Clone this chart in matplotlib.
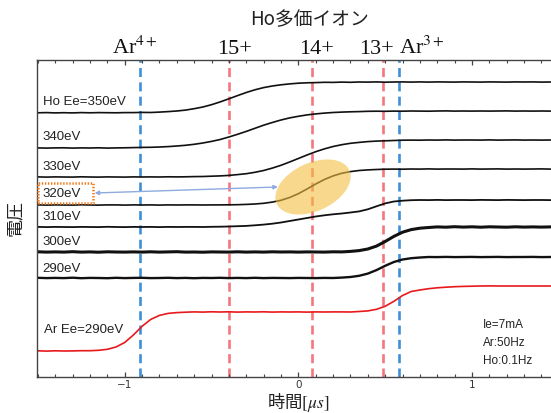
import matplotlib
matplotlib.use("Agg")
import matplotlib.pyplot as plt
from matplotlib.patches import Ellipse, Rectangle
import numpy as np

plt.rcParams['mathtext.fontset'] = 'stix'
plt.rcParams['lines.scale_dashes'] = False

# ---------------- data ----------------
t = [-1.50, -1.45, -1.40, -1.35, -1.30, -1.25, -1.20, -1.15, -1.10, -1.05,
     -1.00, -0.95, -0.90, -0.85, -0.80, -0.75, -0.70, -0.65, -0.60, -0.55,
     -0.50, -0.45, -0.40, -0.35, -0.30, -0.25, -0.20, -0.15, -0.10, -0.05,
     0.00, 0.05, 0.10, 0.15, 0.20, 0.25, 0.30, 0.35, 0.40, 0.45,
     0.50, 0.55, 0.60, 0.65, 0.70, 0.75, 0.80, 0.85, 0.90, 0.95,
     1.00, 1.05, 1.10, 1.15, 1.20, 1.25, 1.30, 1.35, 1.40, 1.45]

ho_350 = [270.2, 270.4, 270.1, 270.3, 270.1, 270.4, 270.2, 270.4, 270.3, 270.2,
          270.4, 270.4, 270.6, 270.5, 270.9, 271.4, 272.0, 272.9, 274.3, 276.0,
          278.3, 281.1, 284.2, 287.4, 290.5, 293.2, 295.4, 297.0, 298.2, 299.1,
          299.8, 300.2, 300.4, 300.7, 300.6, 300.9, 300.7, 301.0, 300.9, 301.1,
          300.8, 301.0, 301.1, 300.9, 301.1, 300.9, 301.1, 301.0, 300.9, 301.1,
          301.0, 300.9, 301.1, 301.0, 300.9, 301.1, 301.0, 301.1, 300.9, 301.0]

ho_340 = [235.1, 234.9, 235.1, 235.2, 234.9, 235.1, 235.0, 235.2, 234.9, 235.1,
          235.2, 235.4, 235.6, 235.7, 236.0, 236.4, 237.0, 237.7, 238.7, 240.0,
          241.6, 243.5, 246.0, 248.7, 251.6, 254.7, 257.8, 260.5, 263.0, 265.1,
          266.7, 268.1, 269.1, 269.9, 270.5, 270.9, 271.2, 271.4, 271.7, 271.8,
          271.7, 271.9, 271.8, 272.0, 271.9, 271.8, 272.0, 272.1, 271.9, 272.0,
          271.9, 272.0, 271.9, 272.0, 272.1, 271.9, 272.0, 271.9, 272.0, 271.9]

ho_330 = [206.1, 205.9, 206.1, 206.0, 205.9, 206.2, 206.0, 205.9, 206.1, 206.0,
          205.9, 206.1, 206.0, 206.1, 206.0, 206.2, 206.1, 206.2, 206.4, 206.5,
          206.8, 207.1, 207.6, 208.4, 209.3, 210.7, 212.5, 214.9, 217.7, 221.0,
          224.5, 228.0, 231.3, 234.1, 236.5, 238.3, 239.7, 240.6, 241.4, 241.9,
          242.2, 242.5, 242.8, 242.9, 242.8, 243.0, 242.9, 243.1, 242.9, 243.0,
          243.0, 242.9, 243.1, 242.9, 243.0, 243.1, 242.9, 243.0, 242.9, 243.0]

ho_320 = [178.1, 177.9, 178.1, 178.0, 177.9, 178.2, 178.0, 177.9, 178.1, 178.1,
          177.9, 178.1, 178.0, 178.1, 177.9, 178.1, 178.0, 178.1, 178.1, 178.0,
          178.1, 178.1, 178.2, 178.3, 178.6, 179.0, 179.7, 180.9, 182.7, 185.5,
          189.3, 194.0, 199.0, 203.5, 207.1, 209.7, 211.4, 212.5, 213.1, 213.5,
          213.8, 213.9, 213.8, 214.0, 213.9, 214.1, 213.9, 214.0, 214.0, 213.9,
          214.1, 213.9, 214.0, 214.1, 213.9, 214.0, 213.9, 214.0, 214.1, 213.9]

ho_310 = [156.1, 155.9, 156.1, 156.0, 155.9, 156.1, 156.0, 155.9, 156.2, 156.0,
          155.9, 156.1, 156.0, 156.1, 155.9, 156.1, 156.0, 156.1, 156.1, 156.0,
          156.2, 156.3, 156.5, 156.8, 157.1, 157.7, 158.4, 159.3, 160.5, 162.0,
          163.5, 165.0, 166.5, 167.7, 168.7, 169.5, 170.5, 171.6, 173.7, 176.7,
          179.6, 181.5, 182.3, 182.8, 183.0, 182.9, 183.1, 182.9, 183.0, 183.0,
          182.9, 183.1, 183.0, 182.9, 183.1, 183.0, 182.9, 183.0, 183.0, 182.9]

ho_300 = [131.2, 130.9, 131.1, 130.9, 131.3, 130.9, 131.1, 130.8, 131.2, 131.0,
          130.9, 131.1, 130.9, 131.2, 130.9, 131.1, 131.3, 130.9, 131.0, 130.8,
          131.1, 131.0, 130.9, 131.2, 130.9, 131.1, 130.9, 131.2, 131.0, 131.1,
          130.9, 131.1, 131.0, 130.9, 131.2, 131.1, 131.6, 132.4, 134.0, 136.9,
          141.5, 146.6, 150.8, 153.4, 154.8, 155.5, 156.1, 155.8, 156.3, 155.9,
          156.2, 155.8, 156.2, 156.0, 155.8, 156.2, 155.9, 156.1, 155.9, 156.1]

ho_290 = [105.2, 104.9, 105.1, 104.9, 105.3, 104.8, 105.1, 105.0, 104.8, 105.2,
          104.9, 105.1, 105.2, 104.9, 105.0, 105.2, 104.9, 105.1, 104.8, 105.1,
          105.0, 105.2, 104.9, 105.1, 104.9, 105.2, 104.9, 105.1, 105.0, 104.9,
          105.1, 105.0, 104.9, 105.1, 105.0, 105.4, 106.0, 107.2, 109.4, 112.9,
          117.2, 121.0, 123.5, 124.8, 125.5, 126.0, 125.9, 126.1, 125.9, 126.0,
          126.1, 125.9, 126.0, 126.1, 125.9, 126.0, 126.0, 126.1, 125.9, 126.0]

ar_290 = [32.2, 31.9, 32.2, 32.0, 32.1, 32.3, 32.3, 32.7, 33.7, 36.0,
          40.5, 48.0, 56.7, 63.6, 67.6, 69.6, 70.4, 70.8, 71.1, 70.9,
          71.2, 71.0, 71.2, 70.9, 71.1, 71.0, 71.2, 70.9, 71.1, 71.0,
          71.1, 70.9, 71.1, 71.0, 71.1, 71.1, 71.0, 71.5, 72.1, 73.7,
          76.7, 81.7, 87.5, 91.5, 93.0, 94.3, 95.2, 95.8, 96.3, 96.6,
          96.8, 97.0, 97.1, 97.0, 97.0, 97.0, 97.0, 97.0, 97.0, 97.0]

trace_labels = ["Ho Ee=350eV", "340eV", "330eV", "320eV", "310eV", "300eV", "290eV"]
ho_traces = [ho_350, ho_340, ho_330, ho_320, ho_310, ho_300, ho_290]
trace_lw = [1.2, 1.2, 1.2, 1.2, 1.3, 2.2, 1.7]
label_y = [281, 245.5, 216.5, 189, 165.5, 141, 114]
ar_label = "Ar Ee=290eV"

ion_names_red = ["15+", "14+", "13+"]
ion_t_red = [-0.40, 0.08, 0.49]
ion_names_blue = ["Ar$^{4+}$", "Ar$^{3+}$"]
ion_t_blue = [-0.91, 0.58]

cond_text = ["Ie=7mA", "Ar:50Hz", "Ho:0.1Hz"]

# ---------------- figure ----------------
W, H = 551, 413
fig = plt.figure(figsize=(W / 100, H / 100), dpi=100)
ax = fig.add_axes([37 / W, (H - 377) / H, (W - 37) / W, (377 - 59.5) / H])
ax.set_xlim(-1.505, 1.455)
ax.set_ylim(6, 323.5)

blue = '#3f8fd8'
red = '#f4777e'
for xv in ion_t_blue:
    ax.axvline(xv, color=blue, lw=1.9, dashes=(6.5, 3.8), zorder=1)
for xv in ion_t_red:
    ax.axvline(xv, color=red, lw=1.9, dashes=(6.5, 3.8), zorder=1)

for tr, lw in zip(ho_traces, trace_lw):
    ax.plot(t, tr, color='#111111', lw=lw, zorder=2)
ax.plot(t, ar_290, color='#e8191c', lw=1.2, zorder=2)

tf = dict(fontsize=9.5, family='Liberation Sans', color='#222222', va='center', ha='left')
for lab, yv in zip(trace_labels, label_y):
    ax.text(-1.473, yv, lab, **tf)
ax.text(-1.467, 53, ar_label, **tf)

for k, s in enumerate(cond_text):
    ax.text(1.061, 57.5 - 17.7 * k, s, fontsize=8.5, family='Liberation Sans',
            color='#222222', va='center', ha='left')

# highlight: dotted box, arrow, ellipse
ax.add_patch(Rectangle((-1.502, 180), 0.317, 20, fill=False, ec='#f07a1a',
                       lw=1.8, ls=(0, (1, 1.2)), zorder=4, clip_on=False))
ax.annotate('', xy=(-0.118, 196), xytext=(-1.173, 190),
            arrowprops=dict(arrowstyle='<|-|>', color='#8eaadf', lw=1.0,
                            mutation_scale=6, shrinkA=0, shrinkB=0), zorder=4)
ell = Ellipse((313 / 100, (H - 187) / 100), 0.80, 0.48, angle=25,
              transform=fig.dpi_scale_trans, facecolor='#f2bf3f', alpha=0.6,
              edgecolor='none', zorder=5)
ax.add_patch(ell)

# axes styling
for sp in ['top', 'bottom', 'left']:
    ax.spines[sp].set_color('#444444')
    ax.spines[sp].set_linewidth(1.0)
ax.spines['right'].set_visible(False)
ax.set_yticks([])
ax.set_xticks([-1, 0, 1])
ax.set_xticklabels(['\u22121', '0', '1'])
ax.set_xticks(np.round(np.arange(-1.5, 1.46, 0.1), 2), minor=True)
ax.tick_params(axis='x', which='both', direction='in', top=True, bottom=True,
               color='#444444', labelsize=7.5, labelcolor='#333333', pad=2.5)
ax.tick_params(axis='x', which='major', length=3.6, width=0.9)
ax.tick_params(axis='x', which='minor', length=2.0, width=0.8)

# top labels
top_centers = {"Ar$^{4+}$": 135, "15+": 235, "14+": 317, "13+": 376, "Ar$^{3+}$": 422}
for s, cx in top_centers.items():
    fig.text(cx / W, 1 - 54 / H, s, fontsize=16, family='Liberation Serif',
             ha='center', va='baseline', color='#111111')
fig.text(310 / W, 1 - 20 / H, "Ho多価イオン", fontsize=13.5,
         family=['Noto Sans CJK JP', 'DejaVu Sans'], ha='center', va='center',
         color='#222222')

fig.text(298 / W, 1 - 403 / H, "時間$[\\mu s]$", fontsize=12.5,
         family=['Noto Sans CJK JP', 'DejaVu Sans'], ha='center', va='center',
         color='#222222')
fig.text(15 / W, 1 - 218 / H, "電圧", fontsize=13, rotation=90,
         family=['Noto Sans CJK JP', 'DejaVu Sans'], ha='center', va='center',
         color='#222222')

fig.savefig('out.png', dpi=100)
